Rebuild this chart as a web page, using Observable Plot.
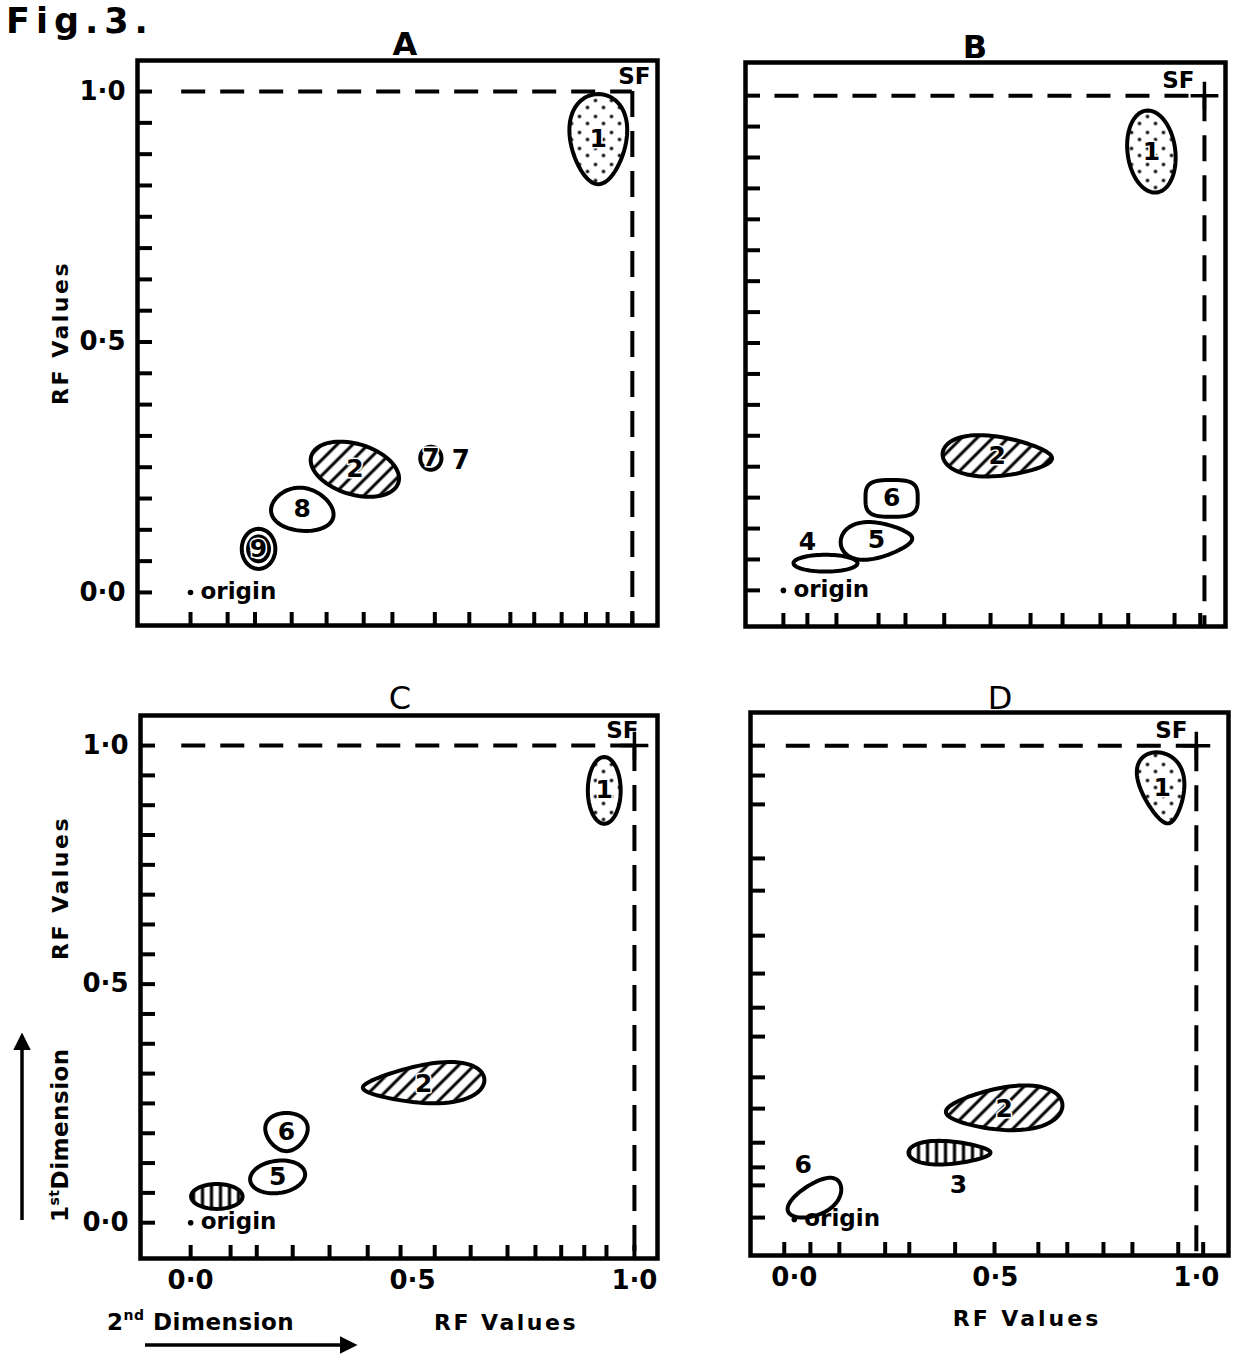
<!DOCTYPE html>
<html>
<head>
<meta charset="utf-8">
<script src="https://cdn.jsdelivr.net/npm/d3@7"></script>
<script src="https://cdn.jsdelivr.net/npm/@observablehq/plot@0.6"></script>
<style>
  html, body { margin: 0; padding: 0; background: #fff; }
  #page { position: relative; width: 1240px; height: 1359px; background: #fff; overflow: hidden; font-family: "DejaVu Sans", sans-serif; }
  .panel { position: absolute; }
  #overlay { position: absolute; left: 0; top: 0; pointer-events: none; }
</style>
</head>
<body>
<div id="page">
  <svg width="0" height="0" style="position:absolute">
    <defs>
      <pattern id="dots" width="16" height="16" patternUnits="userSpaceOnUse">
        <rect width="16" height="16" fill="#fff"/>
        <circle cx="3" cy="4" r="1.8" fill="#000"/>
        <circle cx="11" cy="11" r="1.8" fill="#000"/>
      </pattern>
      <pattern id="hatch" width="11" height="11" patternUnits="userSpaceOnUse" patternTransform="rotate(45)">
        <rect width="11" height="11" fill="#fff"/>
        <line x1="2" y1="0" x2="2" y2="11" stroke="#000" stroke-width="3"/>
      </pattern>
      <pattern id="vbars" width="9" height="10" patternUnits="userSpaceOnUse">
        <rect width="9" height="10" fill="#fff"/>
        <line x1="4" y1="0" x2="4" y2="10" stroke="#000" stroke-width="3.2"/>
      </pattern>
    </defs>
  </svg>
</div>
<script>
// ---------------- data ----------------
// spot centres (RF 2nd dimension = x, RF 1st dimension = y), extents and pattern
const spotsA = [
  {label: "1", x: 0.923, y: 0.905, rx: 0.064, ry: 0.090, taper: 0.22, pattern: "dots"},
  {label: "2", x: 0.372, y: 0.246, rx: 0.100, ry: 0.052, skew: -0.35, pattern: "hatch"},
  {label: "7", x: 0.544, y: 0.268, rx: 0.024, ry: 0.023, pattern: "none", note: "7"},
  {label: "8", x: 0.253, y: 0.166, rx: 0.070, ry: 0.043, skew: -0.1, taper: -0.15, pattern: "none"},
  {label: "9", x: 0.154, y: 0.087, rx: 0.038, ry: 0.040, ring: true, pattern: "none"}
];
const spotsB = [
  {label: "1", x: 0.874, y: 0.887, rx: 0.057, ry: 0.083, lean: -0.15, pattern: "dots"},
  {label: "2", x: 0.508, y: 0.271, rx: 0.130, ry: 0.040, skew: -0.1, wedge: -0.3, pattern: "hatch"},
  {label: "6", x: 0.257, y: 0.186, rx: 0.062, ry: 0.037, sq: 0.6, pattern: "none"},
  {label: "5", x: 0.221, y: 0.101, rx: 0.085, ry: 0.036, skew: 0.1, wedge: -0.35, pattern: "none"},
  {label: "4", x: 0.100, y: 0.055, rx: 0.076, ry: 0.017, pattern: "none", lx: 0.057, ly: 0.097}
];
const spotsC = [
  {label: "1", x: 0.932, y: 0.906, rx: 0.037, ry: 0.070, pattern: "dots"},
  {label: "2", x: 0.525, y: 0.291, rx: 0.137, ry: 0.040, skew: 0.2, wedge: 0.4, pattern: "hatch"},
  {label: "6", x: 0.216, y: 0.190, rx: 0.047, ry: 0.040, taper: 0.2, pattern: "none"},
  {label: "5", x: 0.196, y: 0.096, rx: 0.062, ry: 0.034, skew: 0.15, pattern: "none"},
  {label: "",  x: 0.059, y: 0.055, rx: 0.058, ry: 0.026, pattern: "vbars"}
];
const spotsD = [
  {label: "1", x: 0.915, y: 0.911, rx: 0.055, ry: 0.075, taper: 0.35, lean: -0.25, pattern: "dots"},
  {label: "2", x: 0.522, y: 0.234, rx: 0.145, ry: 0.045, skew: 0.15, wedge: 0.3, pattern: "hatch"},
  {label: "3", x: 0.386, y: 0.141, rx: 0.102, ry: 0.024, wedge: -0.3, pattern: "vbars", lx: 0.408, ly: 0.072},
  {label: "6", x: 0.055, y: 0.046, rx: 0.057, ry: 0.042, lean: 0.6, taper: -0.2, pattern: "none", lx: 0.022, ly: 0.114}
];

const yTicks16 = [0, 0.0625, 0.125, 0.1875, 0.25, 0.3125, 0.375, 0.4375, 0.5, 0.5625, 0.625, 0.6875, 0.75, 0.8125, 0.875, 0.9375, 1];
const yTicksD  = [0.004, 0.072, 0.11, 0.162, 0.234, 0.30, 0.386, 0.447, 0.519, 0.599, 0.694, 0.762, 0.876, 0.937, 1.0];
const xTicksA = [0, 0.084, 0.146, 0.229, 0.308, 0.392, 0.457, 0.553, 0.631, 0.724, 0.778, 0.840, 0.895, 0.944, 1.0];
const xTicksB = [0, 0.057, 0.126, 0.226, 0.290, 0.382, 0.492, 0.587, 0.663, 0.753, 0.819, 0.929, 0.99];
const xTicksC = [0, 0.09, 0.149, 0.23, 0.313, 0.399, 0.473, 0.55, 0.631, 0.714, 0.777, 0.835, 0.887, 0.937, 1.0];
const xTicksD = [-0.025, 0.04, 0.112, 0.226, 0.286, 0.400, 0.498, 0.607, 0.679, 0.769, 0.841, 0.955, 1.017];

const labelValues = [0, 0.5, 1];
const labelTexts = ["0·0", "0·5", "1·0"];
const originPoint = [{x: 0, y: 0, text: "origin"}];
const solventFront = [{x: 1, y: 1, text: "SF"}];

// ---------------- helpers ----------------
const FONT = "DejaVu Sans";
const fills = {dots: "url(#dots)", hatch: "url(#hatch)", vbars: "url(#vbars)", none: "#fff"};

function outline(s, id, scale = 1) {
  const pts = [];
  const n = 72;
  for (let k = 0; k < n; ++k) {
    const t = 2 * Math.PI * k / n;
    let u = Math.cos(t), v = Math.sin(t);
    if (s.sq) { u = Math.sign(u) * Math.abs(u) ** s.sq; v = Math.sign(v) * Math.abs(v) ** s.sq; }
    const u0 = u, v0 = v;
    u = u0 * (1 + (s.taper || 0) * v0);
    v = v0 * (1 + (s.wedge || 0) * u0);
    u += (s.lean || 0) * v0;
    v += (s.skew || 0) * u0;
    pts.push({id, x: s.x + s.rx * scale * u, y: s.y + s.ry * scale * v, fill: scale === 1 ? fills[s.pattern] : "none"});
  }
  return pts;
}

function panel(cfg) {
  const shapes = [];
  cfg.spots.forEach((s, i) => {
    shapes.push(...outline(s, "s" + i));
    if (s.ring) shapes.push(...outline(s, "r" + i, 0.62));
  });
  const fmt = d => labelTexts[labelValues.indexOf(d)];
  const textStyle = {fontFamily: FONT, fontWeight: "bold", fill: "#000"};
  const marks = [
    Plot.ruleY([1], {x1: -0.02, x2: 1, stroke: "#000", strokeWidth: 4, strokeDasharray: "24,15"}),
    Plot.ruleX([1], {y1: 1, y2: cfg.yDomain[0], stroke: "#000", strokeWidth: 4, strokeDasharray: "26,14"}),
    Plot.line(shapes, {x: "x", y: "y", z: "id", fill: "fill", stroke: "#000", strokeWidth: 4, curve: "linear-closed"}),
    Plot.text(cfg.spots, {x: d => d.lx ?? d.x, y: d => d.ly ?? d.y, text: "label", fontSize: 25, ...textStyle, stroke: "#fff", strokeWidth: 3}),
    Plot.text(cfg.spots.filter(d => d.note), {x: "x", y: "y", text: "note", dx: 30, dy: 2, fontSize: 26, ...textStyle}),
    Plot.dot(originPoint, {x: "x", y: "y", r: 2.8, fill: "#000"}),
    Plot.text(originPoint, {x: "x", y: "y", text: "text", dx: 10, dy: -1, textAnchor: "start", fontSize: 23, letterSpacing: 1, ...textStyle}),
    Plot.text(solventFront, {x: "x", y: "y", text: "text", dx: cfg.sfDx, dy: -15, fontSize: 23, ...textStyle}),
    Plot.axisY(cfg.yTicks, {anchor: "left", tickSize: -15, strokeWidth: 4, tickFormat: () => "", label: null}),
    Plot.axisX(cfg.xTicks, {anchor: "bottom", tickSize: -13, strokeWidth: 4, tickFormat: () => "", label: null}),
    Plot.frame({stroke: "#000", strokeWidth: 4.5})
  ];
  if (cfg.plus) marks.push(Plot.dot(solventFront, {x: "x", y: "y", symbol: "plus", r: 9, stroke: "#000", strokeWidth: 3.5}));
  if (cfg.yLabels) marks.push(Plot.axisY(labelValues, {anchor: "left", tickSize: 0, tickPadding: 12, tickFormat: fmt, fontSize: 26, fontWeight: "bold", label: null}));
  if (cfg.xLabels) marks.push(Plot.axisX(labelValues, {anchor: "bottom", tickSize: 0, tickPadding: 12, tickFormat: fmt, fontSize: 26, fontWeight: "bold", label: null}));
  const svg = Plot.plot({
    width: cfg.width, height: cfg.height,
    marginLeft: cfg.m[0], marginRight: cfg.m[1], marginTop: cfg.m[2], marginBottom: cfg.m[3],
    x: {domain: cfg.xDomain, label: null},
    y: {domain: cfg.yDomain, label: null},
    style: {fontFamily: FONT, background: "transparent", color: "#000", overflow: "visible"},
    marks
  });
  svg.classList.add("panel");
  svg.style.left = cfg.left + "px";
  svg.style.top = cfg.top + "px";
  svg.style.position = "absolute";
  return svg;
}

const page = document.getElementById("page");
[
  {spots: spotsA, xTicks: xTicksA, yTicks: yTicks16, left: 0, top: 0, width: 680, height: 660, m: [137, 23, 60, 35],
   xDomain: [-0.12, 1.057], yDomain: [-0.066, 1.062], yLabels: true, xLabels: false, plus: false, sfDx: 2},
  {spots: spotsB, xTicks: xTicksB, yTicks: yTicks16, left: 680, top: 0, width: 560, height: 660, m: [65, 15, 62, 34],
   xDomain: [-0.09, 1.05], yDomain: [-0.073, 1.067], yLabels: false, xLabels: false, plus: true, sfDx: -26},
  {spots: spotsC, xTicks: xTicksC, yTicks: yTicks16, left: 0, top: 680, width: 680, height: 679, m: [140, 23, 35, 101],
   xDomain: [-0.113, 1.052], yDomain: [-0.075, 1.063], yLabels: true, xLabels: true, plus: true, sfDx: -12},
  {spots: spotsD, xTicks: xTicksD, yTicks: yTicksD, left: 680, top: 680, width: 560, height: 679, m: [70, 12, 32, 104],
   xDomain: [-0.109, 1.080], yDomain: [-0.076, 1.07], yLabels: false, xLabels: true, plus: true, sfDx: -25}
].forEach(cfg => page.appendChild(panel(cfg)));

// ---------------- annotations ----------------
const ns = "http://www.w3.org/2000/svg";
const overlay = document.createElementNS(ns, "svg");
overlay.setAttribute("id", "overlay");
overlay.setAttribute("width", 1240);
overlay.setAttribute("height", 1359);
overlay.innerHTML = `
  <defs>
    <marker id="ah" viewBox="0 0 10 10" refX="8" refY="5" markerWidth="5" markerHeight="5" orient="auto-start-reverse">
      <path d="M0,0 L10,5 L0,10 z" fill="#000"/>
    </marker>
  </defs>
  <g font-family="${FONT}" fill="#000">
    <text x="6" y="33" font-size="35" font-weight="bold" letter-spacing="6">Fig.3.</text>
    <text x="405" y="55" font-size="32" font-weight="bold" text-anchor="middle">A</text>
    <text x="975" y="58" font-size="32" font-weight="bold" text-anchor="middle">B</text>
    <text x="400" y="709" font-size="32" text-anchor="middle">C</text>
    <text x="1000" y="709" font-size="32" text-anchor="middle">D</text>
    <text transform="translate(68,333) rotate(-90)" font-size="22" font-weight="bold" letter-spacing="2.5" text-anchor="middle">RF Values</text>
    <text transform="translate(68,888) rotate(-90)" font-size="22" font-weight="bold" letter-spacing="2.5" text-anchor="middle">RF Values</text>
    <text transform="translate(68,1222) rotate(-90)" font-size="23" font-weight="bold" letter-spacing="0.5">1<tspan font-size="14" dy="-9">st</tspan><tspan dy="9">Dimension</tspan></text>
    <text x="107" y="1330" font-size="23" font-weight="bold" letter-spacing="0.5">2<tspan font-size="14" dy="-10">nd</tspan><tspan dy="10"> Dimension</tspan></text>
    <text x="506" y="1330" font-size="22" font-weight="bold" letter-spacing="2.5" text-anchor="middle">RF Values</text>
    <text x="1027" y="1326" font-size="22" font-weight="bold" letter-spacing="3" text-anchor="middle">RF Values</text>
  </g>
  <line x1="22" y1="1220" x2="22" y2="1036" stroke="#000" stroke-width="3.5" marker-end="url(#ah)"/>
  <line x1="145" y1="1345" x2="354" y2="1345" stroke="#000" stroke-width="3.5" marker-end="url(#ah)"/>
`;
page.appendChild(overlay);
</script>
</body>
</html>
